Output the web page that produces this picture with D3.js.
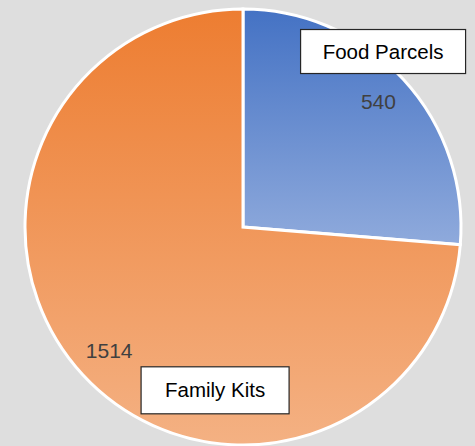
<!DOCTYPE html>
<html>
<head>
<meta charset="utf-8">
<script src="https://cdn.jsdelivr.net/npm/d3@7"></script>
<style>
  html, body { margin: 0; padding: 0; background: #dedede; }
  svg { display: block; }
</style>
</head>
<body>
<svg id="chart"></svg>
<script>
const categories = ["Food Parcels", "Family Kits"];
const values = [540, 1514];

const width = 475, height = 446;
const cx = 243, cy = 227, radius = 218;

// top/bottom colours of each slice gradient
const gradTop = ["#4472c4", "#ed7d31"];
const gradBottom = ["#8faadc", "#f4b183"];

// value label: fraction of radius along the slice mid angle
const valueR = [0.845, 0.835];
// callout boxes: polar offset from centre (angle in degrees, fraction of radius)
const boxPos = [
  { angle: 38.6, r: 1.03, w: 165, h: 44 },
  { angle: 189.7, r: 0.76, w: 148, h: 47 }
];

const svg = d3.select("#chart").attr("width", width).attr("height", height);

svg.append("rect")
  .attr("width", width)
  .attr("height", height)
  .attr("fill", "#dedede");

const defs = svg.append("defs");
categories.forEach((c, i) => {
  let g = defs.append("linearGradient")
    .attr("id", "grad" + i)
    .attr("x1", 0).attr("y1", 0)
    .attr("x2", 0).attr("y2", 1);
  g.append("stop").attr("offset", "0%").attr("stop-color", gradTop[i]);
  g.append("stop").attr("offset", "100%").attr("stop-color", gradBottom[i]);
});

const pie = d3.pie().sort(null).value(d => d.value);
const arcs = pie(categories.map((c, i) => ({ name: c, value: values[i] })));

const arc = d3.arc().innerRadius(0).outerRadius(radius);

const g = svg.append("g").attr("transform", `translate(${cx},${cy})`);

g.selectAll(".slice")
  .data(arcs)
  .enter()
  .append("path")
  .classed("slice", true)
  .attr("d", arc)
  .attr("fill", (d, i) => `url(#grad${i})`)
  .attr("stroke", "#ffffff")
  .attr("stroke-width", 3)
  .attr("stroke-linejoin", "miter");

function polar(angleRad, r) {
  return [Math.sin(angleRad) * r, -Math.cos(angleRad) * r];
}

// value labels
g.selectAll(".value")
  .data(arcs)
  .enter()
  .append("text")
  .classed("value", true)
  .attr("transform", (d, i) => {
    let p = polar((d.startAngle + d.endAngle) / 2, radius * valueR[i]);
    return `translate(${p[0]},${p[1]})`;
  })
  .attr("text-anchor", "middle")
  .attr("dy", "0.35em")
  .attr("font-family", "Liberation Sans, Arial, sans-serif")
  .attr("font-size", 21)
  .attr("fill", "#404040")
  .text(d => d.data.value);

// category callouts
const callouts = g.selectAll(".callout")
  .data(arcs)
  .enter()
  .append("g")
  .classed("callout", true)
  .attr("transform", (d, i) => {
    let p = polar(boxPos[i].angle * Math.PI / 180, radius * boxPos[i].r);
    return `translate(${p[0]},${p[1]})`;
  });

callouts.append("rect")
  .attr("x", (d, i) => -boxPos[i].w / 2)
  .attr("y", (d, i) => -boxPos[i].h / 2)
  .attr("width", (d, i) => boxPos[i].w)
  .attr("height", (d, i) => boxPos[i].h)
  .attr("fill", "#ffffff")
  .attr("stroke", "#262626")
  .attr("stroke-width", 1.2);

callouts.append("text")
  .attr("text-anchor", "middle")
  .attr("dy", "0.35em")
  .attr("font-family", "Liberation Sans, Arial, sans-serif")
  .attr("font-size", 20.5)
  .attr("fill", "#000000")
  .text(d => d.data.name);
</script>
</body>
</html>
